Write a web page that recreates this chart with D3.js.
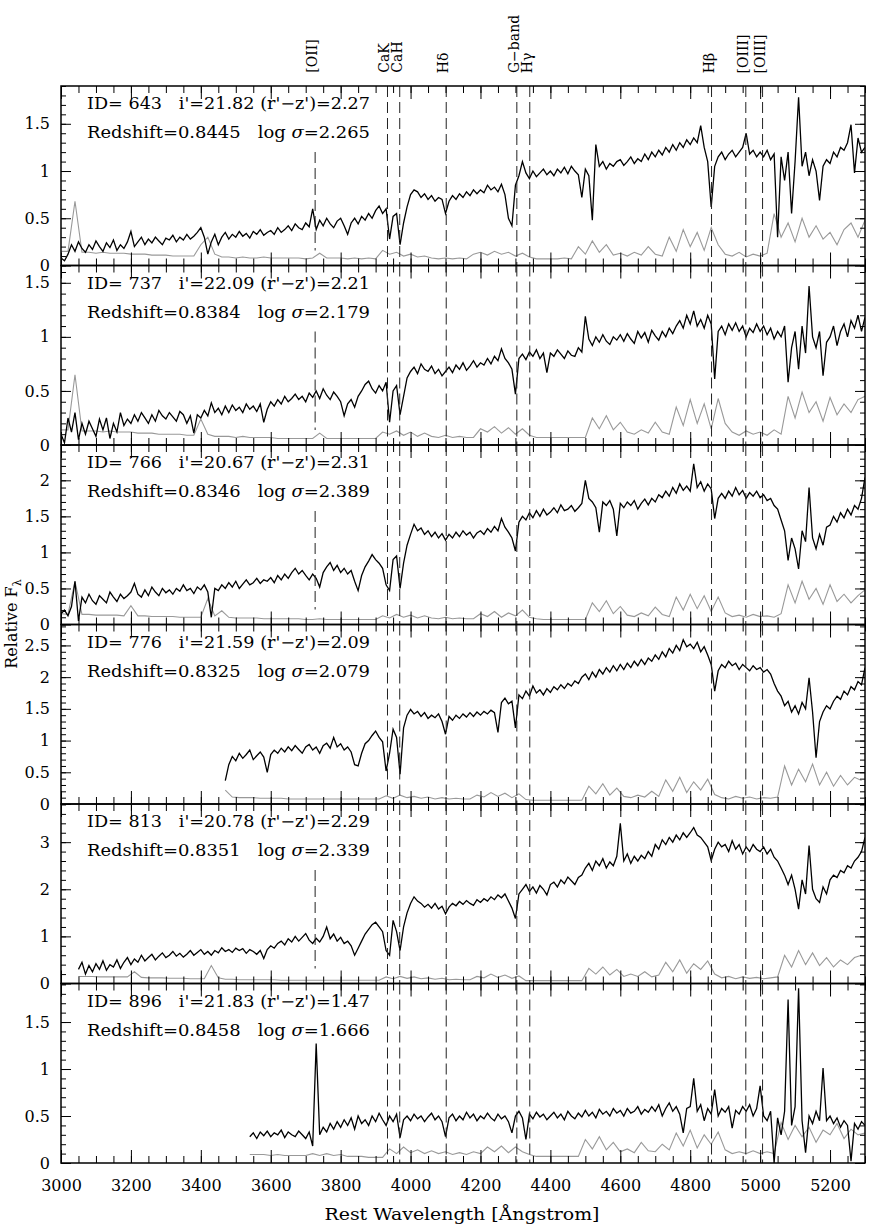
<!DOCTYPE html>
<html>
<head>
<meta charset="utf-8">
<script src="https://cdn.jsdelivr.net/npm/d3@7"></script>
<style>
body { margin: 0; background: #fff; }
text { font-family: 'DejaVu Serif', serif; fill: #000; }
</style>
</head>
<body>
<div id="chart"></div>
<script>
var ids = ['643','737','766','776','813','896'];
var iMag = ['21.82','22.09','20.67','21.59','20.78','21.83'];
var rzColor = ['2.27','2.21','2.31','2.09','2.29','1.47'];
var redshift = ['0.8445','0.8384','0.8346','0.8325','0.8351','0.8458'];
var logSigma = ['2.265','2.179','2.389','2.079','2.339','1.666'];
var yMax = [1.9,1.66,2.49,2.83,3.81,1.91];
var yLabels = [[0,0.5,1,1.5],[0,0.5,1,1.5],[0,0.5,1,1.5,2],[0,0.5,1,1.5,2,2.5],[0,1,2,3],[0,0.5,1,1.5]];
var yMinorStep = [0.1,0.1,0.1,0.1,0.2,0.1];
var xLabels = [3000,3200,3400,3600,3800,4000,4200,4400,4600,4800,5000,5200];
var lineNames = ['[OII]','CaK','CaH','H\u03b4','G\u2212band','H\u03b3','H\u03b2','[OIII]','[OIII]'];
var lineWaves = [3727,3934,3969,4102,4304,4341,4861,4959,5007];
var showOII = [true,true,true,false,true,false];

var fluxStart = [3000,3000,3000,3470,3050,3540];
var errStart = [3000,3000,3000,3470,3050,3540];
var fluxStep = 10, errStep = 20;

var flux643 = [
0.08,0.05,0.12,0.22,0.15,0.25,0.18,0.14,0.22,0.17,0.26,0.2,0.15,0.24,0.19,0.27,0.16,0.22,0.18,0.25,
0.36,0.2,0.25,0.3,0.22,0.28,0.24,0.3,0.26,0.22,0.29,0.27,0.32,0.25,0.3,0.27,0.33,0.28,0.31,0.35,
0.4,0.3,0.12,0.25,0.33,0.22,0.3,0.35,0.28,0.33,0.3,0.36,0.31,0.34,0.29,0.36,0.33,0.38,0.32,0.35,
0.37,0.33,0.4,0.35,0.38,0.42,0.37,0.44,0.4,0.38,0.45,0.41,0.6,0.38,0.48,0.42,0.5,0.44,0.4,0.47,
0.5,0.42,0.33,0.45,0.5,0.44,0.52,0.48,0.55,0.5,0.58,0.63,0.55,0.6,0.28,0.52,0.55,0.22,0.45,0.62,
0.75,0.8,0.78,0.72,0.76,0.7,0.74,0.68,0.72,0.7,0.55,0.68,0.74,0.7,0.76,0.72,0.78,0.74,0.8,0.76,
0.8,0.77,0.85,0.8,0.83,0.78,0.86,0.75,0.5,0.42,0.85,0.95,1.1,0.98,0.92,1.0,0.94,0.98,1.02,0.96,
1.0,0.95,1.02,0.98,1.04,0.97,1.05,1.0,0.96,0.72,1.02,0.95,0.48,1.28,1.05,1.1,1.02,1.08,1.05,1.1,
1.12,1.06,1.1,1.15,1.08,1.13,1.1,1.18,1.12,1.2,1.15,1.22,1.17,1.25,1.2,1.28,1.22,1.3,1.25,1.33,
1.28,1.35,1.3,1.48,1.25,1.1,0.62,1.05,1.15,1.2,1.12,1.18,1.22,1.15,1.2,1.25,1.4,1.18,1.22,1.15,
1.2,1.15,1.22,1.12,1.18,0.3,1.15,0.9,1.2,0.55,1.1,1.78,1.05,1.2,0.95,1.12,1.0,0.69,1.05,1.12,
1.08,1.2,1.15,1.25,1.22,1.3,1.49,0.98,1.35,1.2,1.25];
var err643 = [
0.15,0.15,0.68,0.14,0.14,0.13,0.14,0.13,0.13,0.13,0.12,0.12,0.12,0.11,0.11,0.11,0.1,0.1,0.1,0.1,
0.22,0.3,0.12,0.09,0.09,0.08,0.09,0.08,0.08,0.09,0.08,0.08,0.08,0.08,0.08,0.07,0.08,0.13,0.08,0.08,
0.08,0.07,0.08,0.07,0.08,0.07,0.16,0.12,0.14,0.1,0.12,0.09,0.1,0.08,0.07,0.08,0.07,0.08,0.07,0.12,
0.14,0.11,0.15,0.12,0.14,0.1,0.13,0.09,0.07,0.07,0.07,0.07,0.08,0.07,0.2,0.12,0.26,0.14,0.22,0.11,
0.13,0.1,0.14,0.11,0.2,0.12,0.1,0.3,0.15,0.38,0.2,0.35,0.16,0.4,0.22,0.12,0.1,0.14,0.09,0.12,
0.1,0.13,0.55,0.3,0.45,0.25,0.5,0.3,0.42,0.28,0.35,0.22,0.38,0.45,0.3,0.48];

var flux737 = [
0.1,0.02,0.25,0.12,0.3,0.05,0.2,0.1,0.22,0.15,0.08,0.24,0.14,0.25,0.06,0.2,0.12,0.3,0.18,0.24,
0.2,0.28,0.22,0.3,0.25,0.2,0.28,0.22,0.32,0.27,0.24,0.3,0.26,0.22,0.31,0.28,0.2,0.27,0.11,0.28,
0.25,0.32,0.27,0.39,0.3,0.34,0.28,0.36,0.3,0.37,0.32,0.35,0.3,0.38,0.33,0.36,0.31,0.38,0.21,0.33,
0.4,0.36,0.42,0.38,0.45,0.4,0.43,0.47,0.42,0.45,0.4,0.48,0.44,0.5,0.43,0.52,0.46,0.42,0.49,0.45,
0.4,0.27,0.38,0.42,0.35,0.45,0.5,0.56,0.59,0.52,0.48,0.55,0.5,0.58,0.21,0.5,0.55,0.28,0.45,0.62,
0.68,0.72,0.66,0.75,0.7,0.68,0.73,0.66,0.7,0.64,0.68,0.72,0.67,0.74,0.7,0.76,0.69,0.73,0.78,0.72,
0.76,0.74,0.8,0.75,0.82,0.78,0.89,0.8,0.76,0.7,0.47,0.8,0.84,0.79,0.86,0.82,0.88,0.8,0.85,0.67,
0.85,0.82,0.88,0.84,0.8,0.87,0.83,0.82,0.9,0.86,1.19,0.98,0.92,1.0,0.95,1.02,0.96,0.93,1.0,0.97,
1.02,0.96,1.03,0.98,0.94,1.05,0.99,1.04,0.95,1.06,1.01,0.97,1.05,1.0,1.08,1.03,1.1,1.15,1.08,1.2,
1.12,1.24,1.1,1.16,1.08,1.2,1.12,0.61,1.05,1.1,1.02,1.12,1.06,1.13,1.05,1.1,1.0,1.08,1.04,1.12,
1.05,1.1,1.02,1.08,0.98,1.05,1.0,1.1,0.58,0.9,1.05,0.7,1.1,0.85,1.47,1.0,0.9,1.05,0.64,0.95,
1.0,1.1,0.92,1.05,1.12,1.0,1.15,1.08,1.2,1.05,1.18];
var err737 = [
0.14,0.14,0.65,0.13,0.13,0.13,0.12,0.13,0.12,0.12,0.12,0.11,0.11,0.11,0.1,0.1,0.1,0.1,0.09,0.09,
0.24,0.1,0.08,0.08,0.08,0.07,0.08,0.07,0.07,0.07,0.07,0.06,0.06,0.06,0.06,0.06,0.06,0.11,0.06,0.06,
0.06,0.06,0.06,0.06,0.06,0.06,0.12,0.1,0.13,0.09,0.12,0.08,0.11,0.08,0.07,0.09,0.07,0.08,0.07,0.07,
0.15,0.12,0.17,0.11,0.16,0.1,0.15,0.09,0.07,0.07,0.07,0.07,0.07,0.07,0.07,0.07,0.25,0.15,0.27,0.14,
0.21,0.12,0.1,0.14,0.11,0.21,0.12,0.1,0.35,0.18,0.42,0.2,0.38,0.15,0.43,0.2,0.12,0.09,0.13,0.1,
0.12,0.09,0.14,0.1,0.45,0.25,0.49,0.3,0.4,0.22,0.44,0.28,0.38,0.3,0.42,0.45];

var flux766 = [
0.15,0.2,0.12,0.25,0.6,0.05,0.38,0.3,0.42,0.33,0.28,0.4,0.35,0.3,0.45,0.38,0.32,0.42,0.36,0.4,
0.45,0.57,0.42,0.38,0.48,0.4,0.52,0.45,0.4,0.5,0.44,0.48,0.42,0.5,0.46,0.55,0.47,0.5,0.43,0.52,
0.48,0.55,0.45,0.1,0.5,0.47,0.55,0.5,0.58,0.52,0.6,0.5,0.56,0.62,0.55,0.58,0.64,0.57,0.62,0.6,
0.65,0.58,0.68,0.62,0.7,0.64,0.72,0.78,0.7,0.75,0.68,0.62,0.7,0.64,0.52,0.72,0.8,0.86,0.75,0.82,
0.72,0.78,0.7,0.75,0.6,0.47,0.68,0.8,0.88,0.97,0.9,0.85,0.78,0.55,0.47,0.9,0.95,0.5,0.85,1.1,
1.25,1.39,1.3,1.34,1.25,1.3,1.22,1.28,1.2,1.26,1.17,1.25,1.2,1.28,1.22,1.3,1.24,1.28,1.2,1.27,
1.3,1.25,1.33,1.28,1.36,1.3,1.47,1.35,1.28,1.2,1.02,1.42,1.5,1.45,1.55,1.48,1.58,1.5,1.6,1.52,
1.56,1.62,1.55,1.66,1.58,1.6,1.65,1.57,1.62,1.68,2.0,1.75,1.7,1.62,1.28,1.7,1.65,1.72,1.6,1.23,
1.68,1.62,1.7,1.65,1.72,1.6,1.68,1.74,1.66,1.75,1.7,1.8,1.76,1.85,1.78,1.9,1.82,1.95,1.86,1.92,
1.85,2.23,1.9,1.98,1.85,1.95,1.88,1.47,1.75,1.82,1.75,1.85,1.78,1.9,1.8,1.86,1.75,1.83,1.78,1.85,
1.76,1.8,1.72,1.75,1.65,1.6,1.45,1.3,0.89,1.2,1.05,0.77,1.3,1.15,1.9,1.2,1.05,1.25,1.1,1.35,
1.38,1.5,1.42,1.55,1.48,1.6,1.52,1.65,1.6,1.75,2.04];
var err766 = [
0.15,0.14,0.6,0.14,0.14,0.13,0.13,0.13,0.13,0.12,0.26,0.12,0.12,0.11,0.11,0.11,0.11,0.1,0.1,0.1,
0.1,0.36,0.12,0.19,0.1,0.09,0.09,0.09,0.09,0.08,0.08,0.08,0.08,0.08,0.08,0.07,0.07,0.08,0.07,0.07,
0.07,0.07,0.07,0.07,0.07,0.07,0.12,0.09,0.14,0.1,0.13,0.09,0.12,0.09,0.08,0.1,0.08,0.09,0.08,0.08,
0.15,0.11,0.18,0.1,0.16,0.12,0.2,0.1,0.08,0.07,0.07,0.07,0.07,0.07,0.07,0.07,0.3,0.18,0.33,0.15,
0.25,0.13,0.11,0.16,0.12,0.24,0.14,0.11,0.38,0.2,0.42,0.22,0.4,0.18,0.38,0.16,0.11,0.13,0.1,0.14,
0.11,0.12,0.1,0.15,0.55,0.3,0.6,0.35,0.5,0.28,0.55,0.32,0.42,0.3,0.4,0.48];

var flux776 = [
0.37,0.62,0.75,0.68,0.8,0.72,0.78,0.85,0.7,0.76,0.82,0.74,0.5,
0.78,0.85,0.8,0.88,0.82,0.9,0.84,0.92,0.86,0.8,0.9,0.94,0.85,0.9,0.8,0.92,0.96,0.88,1.05,0.9,
0.95,0.85,0.9,0.82,0.62,0.6,0.8,0.95,1.0,1.08,1.15,1.05,0.98,0.52,0.8,1.18,1.05,0.47,1.2,1.4,
1.49,1.42,1.46,1.38,1.44,1.35,1.4,1.36,1.42,1.3,1.1,1.38,1.32,1.4,1.35,1.42,1.37,1.44,1.38,1.45,
1.4,1.46,1.42,1.48,1.44,1.13,1.6,1.67,1.58,1.62,1.2,1.72,1.66,1.78,1.7,1.86,1.75,1.8,1.72,1.82,
1.76,1.85,1.8,1.88,1.82,1.9,1.86,1.94,1.9,2.0,2.05,1.96,2.08,2.0,2.12,2.05,2.15,2.08,2.18,2.1,
2.2,2.12,2.22,2.15,2.25,2.18,2.28,2.2,2.3,2.25,2.35,2.28,2.4,2.32,2.45,2.38,2.5,2.42,2.59,2.48,
2.52,2.45,2.55,2.4,2.48,2.35,2.2,1.78,2.1,2.2,2.15,2.25,2.18,2.22,2.12,2.2,2.15,2.1,2.18,2.12,
2.15,2.08,2.12,2.05,1.9,1.78,1.7,1.55,1.62,1.45,1.55,1.42,1.6,1.5,1.99,1.45,0.73,1.3,1.45,1.55,
1.5,1.62,1.7,1.65,1.78,1.72,1.85,1.8,1.93,1.88,2.15];
var err776 = [
0.22,0.11,0.1,0.1,0.1,0.09,0.09,0.09,0.09,0.08,
0.08,0.08,0.08,0.08,0.08,0.08,0.08,0.08,0.08,0.08,
0.08,0.08,0.08,0.13,0.09,0.14,0.1,0.12,0.09,0.11,
0.08,0.1,0.08,0.09,0.08,0.08,0.14,0.11,0.18,0.12,
0.17,0.1,0.16,0.07,0.06,0.06,0.06,0.06,0.06,0.06,
0.06,0.06,0.28,0.16,0.32,0.14,0.25,0.12,0.1,0.14,
0.11,0.2,0.12,0.38,0.2,0.42,0.18,0.35,0.22,0.39,
0.15,0.1,0.08,0.12,0.09,0.11,0.08,0.1,0.09,0.11,
0.6,0.3,0.55,0.35,0.63,0.3,0.5,0.28,0.45,0.3,
0.42,0.37];

var flux813 = [
0.3,0.45,0.2,0.38,0.25,0.42,0.3,0.48,0.28,0.4,0.35,0.5,0.32,0.45,0.55,
0.4,0.52,0.45,0.6,0.48,0.55,0.62,0.5,0.58,0.65,0.55,0.6,0.68,0.58,0.64,0.56,0.62,0.7,0.6,0.66,
0.72,0.62,0.68,0.6,0.7,0.65,0.76,0.68,0.72,0.66,0.75,0.7,0.74,0.64,0.72,0.68,0.62,0.7,0.53,0.72,
0.8,0.75,0.85,0.9,0.82,0.95,0.88,1.0,0.9,0.98,1.06,0.92,0.85,0.96,0.88,1.0,1.2,0.95,1.05,0.9,
0.98,0.85,0.9,0.8,0.6,0.75,0.9,1.05,1.15,1.25,1.3,1.2,1.1,0.7,0.6,1.34,1.1,0.7,1.2,1.5,
1.7,1.84,1.75,1.7,1.62,1.68,1.6,1.7,1.58,1.64,1.48,1.62,1.7,1.65,1.74,1.68,1.76,1.7,1.66,1.78,
1.72,1.8,1.75,1.84,1.78,1.88,1.82,1.9,1.75,1.6,1.38,1.9,2.0,2.1,1.95,2.05,1.92,2.08,2.0,1.88,
2.1,2.15,2.05,2.2,2.12,2.26,2.18,2.1,2.25,2.3,2.45,2.55,2.4,2.6,2.5,2.65,2.45,2.58,2.5,2.7,
3.4,2.6,2.75,2.55,2.7,2.6,2.72,2.65,2.8,2.7,2.95,2.85,3.05,2.95,3.1,3.0,3.15,3.05,3.2,3.1,
3.2,3.31,3.15,3.1,3.0,2.9,2.61,2.85,3.0,2.9,2.95,2.8,3.03,2.85,2.95,2.75,2.9,2.8,2.95,2.85,
2.8,2.9,2.75,2.85,2.68,2.6,2.45,2.3,2.1,2.3,2.0,1.58,2.2,1.9,2.93,2.0,1.8,1.72,2.05,1.9,
2.2,2.3,2.25,2.4,2.35,2.5,2.45,2.6,2.68,2.8,3.1];
var err813 = [
0.15,0.15,0.15,0.14,0.14,0.14,0.14,0.14,0.25,0.13,
0.12,0.12,0.12,0.11,0.11,0.11,0.1,0.1,0.1,0.38,
0.12,0.09,0.09,0.08,0.08,0.08,0.08,0.08,0.08,0.07,
0.07,0.07,0.07,0.07,0.07,0.07,0.07,0.07,0.07,0.07,
0.07,0.07,0.07,0.07,0.14,0.1,0.15,0.11,0.14,0.1,
0.12,0.09,0.11,0.08,0.09,0.08,0.08,0.15,0.12,0.2,
0.13,0.18,0.11,0.16,0.06,0.06,0.06,0.06,0.06,0.06,
0.06,0.06,0.06,0.32,0.2,0.35,0.18,0.3,0.15,0.2,
0.15,0.25,0.14,0.18,0.45,0.25,0.5,0.22,0.42,0.3,
0.48,0.2,0.12,0.15,0.1,0.14,0.11,0.13,0.1,0.12,
0.14,0.6,0.35,0.7,0.4,0.65,0.38,0.55,0.35,0.5,
0.4,0.55,0.6];

var flux896 = [
0.28,0.32,0.26,0.33,0.29,0.34,
0.28,0.32,0.3,0.35,0.27,0.33,0.3,0.28,0.34,0.3,0.26,0.33,0.18,1.27,0.3,0.38,0.33,0.42,0.36,0.44,
0.38,0.46,0.4,0.48,0.36,0.5,0.42,0.46,0.4,0.5,0.44,0.53,0.46,0.4,0.5,0.44,0.52,0.27,0.46,0.5,
0.45,0.52,0.47,0.5,0.44,0.49,0.53,0.46,0.5,0.44,0.28,0.48,0.52,0.45,0.5,0.46,0.54,0.48,0.52,0.45,
0.5,0.47,0.53,0.48,0.45,0.52,0.47,0.5,0.44,0.32,0.5,0.55,0.48,0.25,0.52,0.47,0.54,0.49,0.52,0.46,
0.5,0.54,0.48,0.52,0.46,0.55,0.5,0.47,0.53,0.49,0.56,0.5,0.54,0.48,0.57,0.52,0.55,0.5,0.58,0.53,
0.56,0.5,0.58,0.53,0.55,0.6,0.52,0.57,0.54,0.6,0.55,0.62,0.5,0.58,0.64,0.55,0.6,0.52,0.32,0.58,
0.6,0.9,0.55,0.62,0.45,0.58,0.52,0.78,0.5,0.58,0.54,0.6,0.37,0.56,0.52,0.6,0.55,0.62,0.5,0.58,
0.82,0.5,0.45,0.55,0.0,0.48,0.3,0.55,1.74,0.4,0.6,1.86,0.45,0.11,0.5,0.42,0.55,0.45,1.01,0.45,
0.5,0.42,0.48,0.38,0.45,0.4,0.02,0.42,0.36,0.44,0.4];
var err896 = [
0.09,0.09,0.09,0.08,0.09,0.08,0.08,0.08,0.08,0.1,
0.08,0.1,0.08,0.09,0.07,0.07,0.07,0.06,0.06,0.06,
0.15,0.1,0.17,0.11,0.14,0.1,0.13,0.1,0.12,0.09,
0.11,0.09,0.12,0.1,0.17,0.12,0.18,0.11,0.17,0.12,
0.09,0.07,0.07,0.07,0.07,0.07,0.07,0.07,0.25,0.15,
0.28,0.14,0.22,0.12,0.15,0.11,0.22,0.13,0.12,0.2,
0.14,0.32,0.18,0.35,0.16,0.3,0.2,0.33,0.14,0.1,
0.12,0.1,0.13,0.1,0.12,0.1,0.43,0.25,0.4,0.28,
0.38,0.22,0.35,0.3,0.42,0.26,0.36,0.3,0.32];

var fluxes = [flux643,flux737,flux766,flux776,flux813,flux896];
var errors = [err643,err737,err766,err776,err813,err896];

var width = 872, height = 1230;
var plotLeft = 61, plotRight = 865, plotTop = 86, plotBottom = 1163;
var panelH = (plotBottom - plotTop) / ids.length;

var svg = d3.select('#chart').append('svg')
                .attr('width',width)
                .attr('height',height);

var x = d3.scaleLinear().domain([3000,5300]).range([plotLeft,plotRight]);
var xMinor = x.ticks(46);

function toPoints(values,start,step){
    return values.map(function(v,k){ return [start + k*step, v]; });
}

ids.forEach(function(id,i){
    var top = plotTop + i*panelH;
    var bot = top + panelH;
    var y = d3.scaleLinear().domain([0,yMax[i]]).range([bot,top]);
    var g = svg.append('g').attr('class','panel');

    svg.append('clipPath').attr('id','clip'+i)
        .append('rect')
        .attr('x',plotLeft).attr('y',top)
        .attr('width',plotRight-plotLeft).attr('height',panelH);

    var line = d3.line()
                .x(function(d){ return x(d[0]); })
                .y(function(d){ return y(d[1]); });

    var data = g.append('g').attr('clip-path','url(#clip'+i+')');
    data.append('path')
        .datum(toPoints(errors[i],errStart[i],errStep))
        .attr('d',line)
        .attr('fill','none')
        .attr('stroke','#999')
        .attr('stroke-width',1.1);
    data.append('path')
        .datum(toPoints(fluxes[i],fluxStart[i],fluxStep))
        .attr('d',line)
        .attr('fill','none')
        .attr('stroke','#000')
        .attr('stroke-width',1.3);

    // feature lines; [OII] only drawn short, below the labels
    lineWaves.forEach(function(w,k){
        if (k===0 && !showOII[i]) return;
        g.append('line')
            .attr('x1',x(w)).attr('x2',x(w))
            .attr('y1',k===0 ? top+66 : top)
            .attr('y2',k===0 ? bot-15 : bot)
            .attr('stroke','#222')
            .attr('stroke-width',1)
            .attr('stroke-dasharray','11,5');
    });

    g.append('rect')
        .attr('x',plotLeft).attr('y',top)
        .attr('width',plotRight-plotLeft).attr('height',panelH)
        .attr('fill','none')
        .attr('stroke','#000')
        .attr('stroke-width',1.5);

    var yMinor = d3.range(0,yMax[i]+1e-9,yMinorStep[i]);
    var axes = [
        [d3.axisBottom(x).tickValues(xMinor).tickSize(-7),'translate(0,'+bot+')'],
        [d3.axisBottom(x).tickValues(xLabels).tickSize(-13),'translate(0,'+bot+')'],
        [d3.axisTop(x).tickValues(xMinor).tickSize(-7),'translate(0,'+top+')'],
        [d3.axisTop(x).tickValues(xLabels).tickSize(-13),'translate(0,'+top+')'],
        [d3.axisLeft(y).tickValues(yMinor).tickSize(-5),'translate('+plotLeft+',0)'],
        [d3.axisLeft(y).tickValues(yLabels[i]).tickSize(-10),'translate('+plotLeft+',0)'],
        [d3.axisRight(y).tickValues(yMinor).tickSize(-5),'translate('+plotRight+',0)'],
        [d3.axisRight(y).tickValues(yLabels[i]).tickSize(-10),'translate('+plotRight+',0)']
    ];
    axes.forEach(function(a){
        var ag = g.append('g').attr('transform',a[1]).call(a[0].tickFormat('').tickSizeOuter(0));
        ag.select('.domain').remove();
        ag.selectAll('text').remove();
        ag.selectAll('line').attr('stroke','#000').attr('stroke-width',1);
    });

    var yl = g.append('g').attr('transform','translate('+plotLeft+',0)')
                .call(d3.axisLeft(y).tickValues(yLabels[i]).tickSize(0).tickPadding(11).tickFormat(function(d){ return String(d); }));
    yl.select('.domain').remove();
    yl.selectAll('text').attr('font-family',"'DejaVu Serif', serif").attr('font-size',16).attr('fill','#000');

    g.append('text')
        .attr('x',87).attr('y',top+23)
        .attr('xml:space','preserve')
        .attr('font-size',16)
        .attr('textLength',283)
        .attr('lengthAdjust','spacingAndGlyphs')
        .text('ID= ' + id + '   i\'=' + iMag[i] + ' (r\'\u2212z\')=' + rzColor[i]);
    var t2 = g.append('text')
                .attr('x',87).attr('y',top+52)
                .attr('xml:space','preserve')
                .attr('font-size',16)
                .attr('textLength',283)
                .attr('lengthAdjust','spacingAndGlyphs');
    t2.append('tspan').text('Redshift=' + redshift[i] + '   log ');
    t2.append('tspan').attr('font-style','italic').text('\u03c3');
    t2.append('tspan').text('=' + logSigma[i]);

    if (i===ids.length-1){
        var xl = g.append('g').attr('transform','translate(0,'+bot+')')
                    .call(d3.axisBottom(x).tickValues(xLabels).tickSize(0).tickPadding(17).tickFormat(d3.format('d')));
        xl.select('.domain').remove();
        xl.selectAll('text').attr('font-family',"'DejaVu Serif', serif").attr('font-size',16).attr('fill','#000');
    }
});

// feature names, bottom-to-top, bottom end at y=73 (whole-pixel positions)
lineNames.forEach(function(name,k){
    var lab = svg.append('text')
                .attr('text-anchor','middle')
                .attr('font-size',14);
    lab.append('tspan').text(name);
    var len = lab.node().getComputedTextLength();
    var tx = Math.round(x(lineWaves[k]) + 2);
    var ty = Math.round(73 - len/2);
    lab.attr('transform','translate(' + tx + ',' + ty + ') rotate(-90)');
});

svg.append('text')
    .attr('x',462).attr('y',1220)
    .attr('text-anchor','middle')
    .attr('font-size',16)
    .attr('textLength',275)
    .attr('lengthAdjust','spacingAndGlyphs')
    .text('Rest Wavelength [\u00c5ngstrom]');

var yt = svg.append('text')
            .attr('transform','translate(17,624) rotate(-90)')
            .attr('text-anchor','middle')
            .attr('font-size',16);
yt.append('tspan').text('Relative F');
yt.append('tspan').attr('font-size',11).attr('dy',4).text('\u03bb');
</script>
</body>
</html>
